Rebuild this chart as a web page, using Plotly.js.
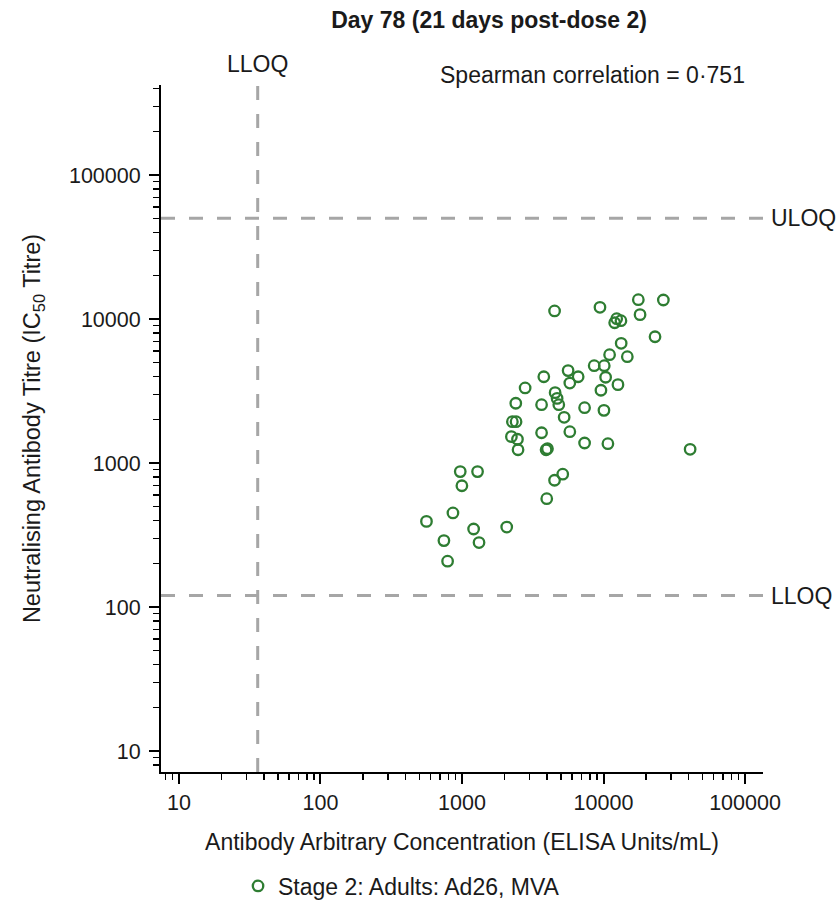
<!DOCTYPE html>
<html>
<head>
<meta charset="utf-8">
<script src="https://cdn.plot.ly/plotly-3.0.1.min.js"></script>
<style>html,body{margin:0;padding:0;background:#fff;}#chart{width:839px;height:904px;}</style>
</head>
<body>
<div id="chart"></div>
<script>
// ---- Data ----
const elisaUnits = [4510, 9440, 17620, 26480, 18120, 12390, 13280, 11990, 23120, 13330,
  11040, 14730, 8590, 10120, 5620, 3785, 6620, 10350, 5780, 2793,
  12650, 9590, 4550, 4700, 4830, 2399, 3650, 7350, 10070, 5270,
  2270, 2410, 3650, 5780, 2234, 2466, 2489, 3928, 4018, 7350,
  10740, 40930, 972, 1288, 998, 4508, 5150, 3970, 863, 561,
  1208, 2070, 745, 1319, 791];
const ic50Titre = [11370, 12050, 13610, 13550, 10720, 10050, 9730, 9420, 7530, 6780,
  5650, 5470, 4740, 4740, 4380, 3970, 3970, 3940, 3590, 3320,
  3500, 3200, 3080, 2810, 2540, 2600, 2540, 2420, 2320, 2075,
  1935, 1935, 1622, 1649, 1524, 1462, 1236, 1236, 1256, 1377,
  1362, 1245, 871, 871, 695, 759, 836, 565, 450, 393,
  348, 359, 289, 280, 208];
const seriesName = "Stage 2: Adults: Ad26, MVA";
const tickValues = [10, 100, 1000, 10000, 100000];
const tickLabels = ["10", "100", "1000", "10000", "100000"];
const lloqElisa = 36;
const uloqTitre = 50000;
const lloqTitre = 120;
const titleText = "Day 78 (21 days post-dose 2)";
const spearmanText = "Spearman correlation = 0·751";
const xTitle = "Antibody Arbitrary Concentration (ELISA Units/mL)";
const yTitle = "Neutralising Antibody Titre (IC<sub>50</sub> Titre)";

// ---- Styles ----
const FONT = "Liberation Sans, Arial, Helvetica, sans-serif";
const TXT = "#1a1a1a";
const GREEN = "#2e7d32";
const REF = "#a6a6a6";

const trace = {
  type: "scatter", mode: "markers",
  x: elisaUnits, y: ic50Titre, name: seriesName,
  marker: {symbol: "circle-open", size: 10.5, color: GREEN, line: {width: 2.3, color: GREEN}},
  hoverinfo: "x+y"
};

const axisCommon = {
  type: "log", showgrid: false, zeroline: false,
  showline: true, linecolor: "#000", linewidth: 2,
  ticks: "outside", ticklen: 10, tickwidth: 2, tickcolor: "#000",
  tickmode: "array", tickvals: tickValues, ticktext: tickLabels,
  tickfont: {family: FONT, size: 21.5, color: TXT},
  minor: {ticks: "outside", ticklen: 6, tickwidth: 1.5, tickcolor: "#000", dtick: "D1", showgrid: false}
};

const layout = {
  width: 839, height: 904,
  margin: {l: 161, r: 76, t: 85, b: 132, autoexpand: false},
  paper_bgcolor: "#fff", plot_bgcolor: "#fff",
  font: {family: FONT, color: TXT, size: 23},
  title: {text: "<b>" + titleText + "</b>", x: 0.545, xref: "paper", xanchor: "center",
          y: 0.978, yref: "container", yanchor: "middle",
          font: {family: FONT, size: 23, color: TXT}},
  xaxis: Object.assign({}, axisCommon, {
    range: [0.873, 5.127],
    title: {text: xTitle, font: {family: FONT, size: 23, color: TXT}, standoff: 20}
  }),
  yaxis: Object.assign({}, axisCommon, {
    range: [0.854, 5.625],
    ticklabelstandoff: 4,
    title: {text: yTitle, font: {family: FONT, size: 23.5, color: TXT}, standoff: 22}
  }),
  showlegend: true,
  legend: {orientation: "h", xref: "container", x: 0.2837, xanchor: "left",
           yref: "container", y: 0.0199, yanchor: "middle",
           font: {family: FONT, size: 23, color: TXT}, bgcolor: "rgba(0,0,0,0)"},
  shapes: [
    {type: "line", xref: "x", yref: "paper", x0: lloqElisa, x1: lloqElisa, y0: 0, y1: 1,
     line: {color: REF, width: 3, dash: "14px,14px"}},
    {type: "line", xref: "paper", yref: "y", x0: 0, x1: 1, y0: uloqTitre, y1: uloqTitre,
     line: {color: REF, width: 3, dash: "14px,14px"}},
    {type: "line", xref: "paper", yref: "y", x0: 0, x1: 1, y0: lloqTitre, y1: lloqTitre,
     line: {color: REF, width: 3, dash: "14px,14px"}}
  ],
  annotations: [
    {text: "LLOQ", xref: "x", x: Math.log10(lloqElisa), yref: "paper", y: 1.0306,
     xanchor: "center", yanchor: "middle", showarrow: false, font: {family: FONT, size: 23, color: TXT}},
    {text: "ULOQ", xref: "paper", x: 1, yref: "y", y: Math.log10(uloqTitre),
     xanchor: "left", yanchor: "middle", xshift: 6, showarrow: false, font: {family: FONT, size: 23, color: TXT}},
    {text: "LLOQ", xref: "paper", x: 1, yref: "y", y: Math.log10(lloqTitre),
     xanchor: "left", yanchor: "middle", xshift: 6, showarrow: false, font: {family: FONT, size: 23, color: TXT}},
    {text: spearmanText, xref: "paper", x: 0.716, yref: "paper", y: 1.0146,
     xanchor: "center", yanchor: "middle", showarrow: false, font: {family: FONT, size: 23, color: TXT}}
  ]
};

Plotly.newPlot("chart", [trace], layout, {staticPlot: true, displayModeBar: false});
</script>
</body>
</html>
